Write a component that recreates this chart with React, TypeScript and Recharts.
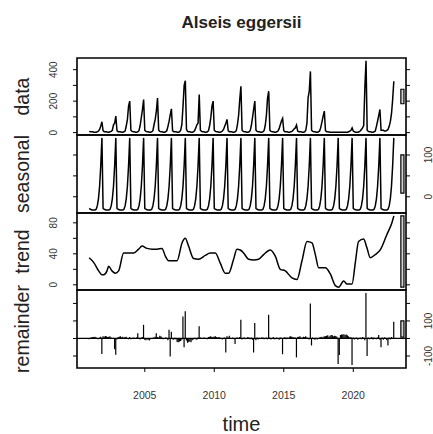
import React from 'react';
import { ComposedChart, Line, Bar, XAxis, YAxis, ReferenceArea, ReferenceLine } from 'recharts';

// ---------- content ----------
const TITLE = 'Alseis eggersii';
const PANEL_NAMES = ['data', 'seasonal', 'trend', 'remainder'];
const X_LABEL = 'time';

const YEARS = [2001, 2002, 2003, 2004, 2005, 2006, 2007, 2008, 2009, 2010, 2011,
  2012, 2013, 2014, 2015, 2016, 2017, 2018, 2019, 2020, 2021, 2022];

// monthly observed values, Jan..Dec per year
const DATA_ROWS: number[][] = [
  [8, 6, 5, 5, 3, 3, 3, 5, 10, 20, 42, 69],
  [12, 6, 5, 5, 3, 3, 5, 8, 15, 50, 60, 105],
  [12, 6, 5, 5, 3, 3, 5, 10, 42, 84, 168, 200],
  [15, 8, 5, 5, 3, 3, 5, 12, 45, 95, 147, 210],
  [15, 8, 5, 5, 3, 3, 5, 12, 50, 84, 137, 220],
  [15, 8, 5, 5, 3, 3, 5, 12, 40, 73, 115, 151],
  [12, 6, 5, 5, 3, 3, 5, 15, 50, 168, 300, 330],
  [20, 8, 5, 5, 3, 3, 5, 12, 30, 50, 60, 242],
  [15, 8, 5, 5, 3, 3, 5, 12, 45, 95, 168, 200],
  [15, 8, 5, 5, 3, 3, 5, 10, 20, 40, 60, 84],
  [12, 6, 5, 5, 3, 3, 5, 12, 50, 110, 210, 294],
  [15, 8, 5, 5, 3, 3, 5, 12, 45, 95, 150, 200],
  [15, 8, 5, 5, 3, 3, 5, 12, 45, 110, 221, 263],
  [15, 8, 5, 5, 3, 3, 5, 10, 25, 50, 74, 90],
  [12, 6, 5, 5, 3, 3, 5, 8, 15, 25, 30, 48],
  [10, 6, 5, 5, 3, 3, 5, 15, 60, 221, 263, 389],
  [15, 8, 5, 5, 3, 3, 5, 12, 35, 70, 105, 137],
  [12, 6, 5, 4, 3, 3, 3, 3, 3, 3, 3, 3],
  [3, 3, 3, 3, 3, 3, 3, 3, 5, 10, 15, 30],
  [10, 5, 3, 3, 3, 5, 10, 20, 30, 45, 284, 456],
  [15, 8, 5, 5, 3, 3, 5, 10, 40, 74, 110, 147],
  [15, 15, 15, 10, 10, 15, 20, 40, 70, 120, 210, 326],
];

// periodic seasonal component, Jan..Dec
const SEASONAL_PATTERN = [-28, -30, -31, -32, -32, -32, -30, -22, -5, 25, 75, 141];

// trend component
const TREND_TIMES = [
  2001.0, 2001.32, 2001.68, 2001.92, 2002.04, 2002.28, 2002.40, 2002.64, 2002.88, 2003.12,
  2003.48, 2003.72, 2004.20, 2004.56, 2004.80, 2005.16, 2005.52, 2005.88, 2006.24, 2006.48,
  2006.72, 2007.08, 2007.32, 2007.68, 2007.91, 2008.15, 2008.51, 2008.87, 2009.35, 2009.71,
  2010.07, 2010.43, 2010.79, 2011.03, 2011.39, 2011.63, 2011.87, 2012.11, 2012.47, 2012.83,
  2013.19, 2013.55, 2014.03, 2014.39, 2014.75, 2015.11, 2015.59, 2015.95, 2016.31, 2016.67,
  2017.03, 2017.27, 2017.51, 2017.99, 2018.35, 2018.71, 2018.95, 2019.31, 2019.55, 2019.91,
  2020.15, 2020.38, 2020.74, 2020.98, 2021.22, 2021.58, 2021.94, 2022.42, 2022.78, 2022.92,
];
const TREND_VALUES = [
  35, 29, 18, 13, 13, 18, 24, 18, 15, 18,
  41, 41, 41, 46, 50, 47, 46, 46, 47, 37,
  31, 31, 31, 54, 60, 50, 34, 33, 38, 41,
  41, 28, 15, 15, 33, 46, 45, 41, 33, 32,
  33, 39, 45, 37, 20, 18, 9, 7, 31, 56,
  54, 39, 22, 22, 14, -1, -3, 5, 1, 1,
  29, 56, 59, 48, 35, 39, 45, 65, 80, 89,
];

// remainder component, Jan..Dec per year
const REMAINDER_ROWS: number[][] = [
  [-5, 4, 6, 8, 8, 10, 6, 3, -4, 5, 10, -88],
  [12, 10, 14, 12, 8, 10, 12, 6, -3, 4, -61, -93],
  [-6, 8, 10, 12, 6, 10, 4, 8, 10, 3, -5, 8],
  [-4, 3, 5, 4, -3, 6, 30, 4, -6, 5, 8, 78],
  [-8, -10, -6, -8, -12, -5, -3, 4, 6, 10, 30, 8],
  [6, 15, 12, 5, -4, 3, 6, 4, -10, 50, -103, 38],
  [-5, -8, 4, -6, -20, -22, -18, -15, -8, 125, -50, 155],
  [-12, -25, -20, -18, -22, -10, -6, 4, -5, -8, 6, 70],
  [5, 4, -3, 6, 4, 3, -4, 8, 10, 12, 8, 10],
  [10, 12, 8, 6, 9, 5, 3, -6, 4, 5, -80, 12],
  [5, 15, 4, -3, 6, -5, -32, 4, 6, 3, 8, 107],
  [-6, 4, 5, -4, 3, 8, 5, -5, 6, -8, -80, 88],
  [-10, 5, -6, 4, -3, 5, 6, -4, 3, 6, -5, 135],
  [5, -6, 3, 8, -5, -4, 6, 3, -8, 5, 4, -90],
  [4, 8, -5, 6, 3, 10, 12, 10, 8, 5, 6, -108],
  [8, 10, 12, 6, 4, 10, 8, 12, 6, 4, -6, 200],
  [-40, 6, -5, -8, 4, -6, -3, 5, 8, 10, 6, 12],
  [12, 15, 18, 10, 15, 20, 18, 12, 16, 14, 10, -145],
  [-95, 20, 22, 22, 24, 20, 22, 18, 12, 6, 8, -152],
  [5, -6, 4, 6, -8, 3, 5, -4, 8, 6, -10, 260],
  [-100, 6, -5, 4, 8, -6, 5, 3, -4, 6, 20, -8],
  [-50, 5, -8, 6, 4, -10, -40, 5, -6, 8, 4, 95],
];

const X_TICKS = [2005, 2010, 2015, 2020];
const DATA_TICKS = [0, 100, 200, 300, 400];
const DATA_LABELS = [0, 200, 400];
const SEASONAL_TICKS = [0, 50, 100];
const SEASONAL_LABELS = [0, 100];
const TREND_TICKS = [0, 20, 40, 60, 80];
const TREND_LABELS = [0, 40, 80];
const REMAINDER_TICKS = [-100, 0, 100, 200];
const REMAINDER_LABELS = [-100, 100];

// ---------- layout ----------
const W = 433;
const H = 434;
const Y_LEFT_W = 77;
const Y_RIGHT_W = 27;
const PANEL_EDGES = [58, 135, 213, 290, 368];
const PAD = 6;
const X_AXIS_H = 50;
const FONT = "'Liberation Sans', Arial, Helvetica, sans-serif";

// ---------- tables ----------
const monthly = YEARS.flatMap((y, i) =>
  SEASONAL_PATTERN.map((s, m) => ({
    t: y + m / 12,
    data: DATA_ROWS[i][m],
    seasonal: s,
    remainder: REMAINDER_ROWS[i][m],
  }))
);
const trendRows = TREND_TIMES.map((t, i) => ({ t, trend: TREND_VALUES[i] }));

const tFirst = monthly[0].t;
const tLast = monthly[monthly.length - 1].t;
const X_DOMAIN: [number, number] = [tFirst - 0.04 * (tLast - tFirst), tLast + 0.04 * (tLast - tFirst)];

function stats(vals: number[]) {
  const lo = Math.min(...vals);
  const hi = Math.max(...vals);
  const r = hi - lo;
  return { lo, hi, r, dom: [lo - 0.04 * r, hi + 0.04 * r] as [number, number] };
}

const S = [
  stats(monthly.map((d) => d.data)),
  stats(monthly.map((d) => d.seasonal)),
  stats(TREND_VALUES),
  stats(monthly.map((d) => d.remainder)),
];
const MX = Math.min(...S.map((s) => s.r));

const makeYTick = (labels: number[], side: 'left' | 'right') => (props: any) => {
  const { y, payload } = props;
  if (!labels.includes(payload.value)) return <g />;
  const lx = side === 'left' ? 57.5 : 432.4;
  return (
    <text
      x={lx}
      y={y}
      transform={`rotate(-90 ${lx} ${y})`}
      textAnchor="middle"
      fontSize={10}
      fontFamily={FONT}
      fill="#333"
    >
      {payload.value}
    </text>
  );
};

const HShape = (p: any) => {
  const cx = p.x + p.width / 2;
  if (!isFinite(cx) || !isFinite(p.y) || !isFinite(p.height)) return <g />;
  return <line x1={cx} x2={cx} y1={p.y} y2={p.y + p.height} stroke="#000" strokeWidth={1.2} />;
};

function Panel(props: {
  index: number;
  rows: any[];
  dataKey: string;
  ticks: number[];
  labels: number[];
  labelSide: 'left' | 'right';
  curve?: 'linear' | 'monotone';
}) {
  const { index, rows, dataKey, ticks, labels, labelSide, curve } = props;
  const top = PANEL_EDGES[index];
  const bottom = PANEL_EDGES[index + 1];
  const ph = bottom - top;
  const last = index === 3;
  const h = PAD + ph + PAD + (last ? X_AXIS_H : 0);
  const st = S[index];
  const dx = (X_DOMAIN[1] - X_DOMAIN[0]) / 64;
  const cy = (st.lo + st.hi) / 2;
  const tickLabelBase = PAD + ph + 31;

  const XTick = (p: any) => (
    <text x={p.x} y={tickLabelBase} textAnchor="middle" fontSize={10.5} fontFamily={FONT} fill="#333">
      {p.payload.value}
    </text>
  );

  return (
    <div style={{ position: 'absolute', left: 0, top: top - PAD, width: W, height: h }}>
      <ComposedChart width={W} height={h} data={rows} margin={{ top: PAD, bottom: PAD, left: 0, right: 0 }}>
        <XAxis
          dataKey="t"
          type="number"
          domain={X_DOMAIN}
          allowDataOverflow
          hide={!last}
          ticks={X_TICKS}
          interval={0}
          tickSize={4}
          axisLine={false}
          tickLine={{ stroke: '#000', strokeWidth: 1 }}
          tick={XTick}
          height={last ? X_AXIS_H : undefined}
        />
        <YAxis
          yAxisId="L"
          orientation="left"
          width={Y_LEFT_W}
          type="number"
          domain={st.dom}
          allowDataOverflow
          ticks={ticks}
          interval={0}
          tickSize={4}
          axisLine={false}
          tickLine={{ stroke: '#000', strokeWidth: 1 }}
          tick={makeYTick(labelSide === 'left' ? labels : [], 'left')}
        />
        <YAxis
          yAxisId="R"
          orientation="right"
          width={Y_RIGHT_W}
          type="number"
          domain={st.dom}
          allowDataOverflow
          ticks={ticks}
          interval={0}
          tickSize={4}
          axisLine={false}
          tickLine={{ stroke: '#000', strokeWidth: 1 }}
          tick={makeYTick(labelSide === 'right' ? labels : [], 'right')}
        />
        {last ? (
          <Bar yAxisId="L" dataKey={dataKey} barSize={1} shape={HShape} isAnimationActive={false} />
        ) : (
          <Line
            yAxisId="L"
            type={curve || 'linear'}
            dataKey={dataKey}
            stroke="#000"
            strokeWidth={1.5}
            dot={false}
            isAnimationActive={false}
          />
        )}
        <Line yAxisId="R" type="linear" dataKey={dataKey} stroke="none" dot={false} isAnimationActive={false} />
        {last ? <ReferenceLine yAxisId="L" y={0} stroke="#000" strokeWidth={1.3} /> : null}
        <ReferenceArea
          yAxisId="L"
          x1={X_DOMAIN[1] - dx}
          x2={X_DOMAIN[1] - 0.4 * dx}
          y1={cy - MX / 2}
          y2={cy + MX / 2}
          fill="#d3d3d3"
          fillOpacity={1}
          stroke="#000"
          strokeWidth={1.2}
          ifOverflow="visible"
        />
        <ReferenceArea
          yAxisId="L"
          x1={X_DOMAIN[0]}
          x2={X_DOMAIN[1]}
          y1={st.dom[0]}
          y2={st.dom[1]}
          fill="none"
          fillOpacity={0}
          stroke="#000"
          strokeWidth={1.6}
          ifOverflow="visible"
        />
      </ComposedChart>
    </div>
  );
}

export default function App() {
  const panelCenters = [0, 1, 2, 3].map((i) => (PANEL_EDGES[i] + PANEL_EDGES[i + 1]) / 2);
  const plotCenterX = (Y_LEFT_W + (W - Y_RIGHT_W)) / 2;
  return (
    <div style={{ position: 'absolute', left: 0, top: 0, width: W, height: H, background: '#fff', overflow: 'hidden' }}>
      <Panel index={0} rows={monthly} dataKey="data" ticks={DATA_TICKS} labels={DATA_LABELS} labelSide="left" />
      <Panel index={1} rows={monthly} dataKey="seasonal" ticks={SEASONAL_TICKS} labels={SEASONAL_LABELS} labelSide="right" />
      <Panel index={2} rows={trendRows} dataKey="trend" ticks={TREND_TICKS} labels={TREND_LABELS} labelSide="left" curve="monotone" />
      <Panel index={3} rows={monthly} dataKey="remainder" ticks={REMAINDER_TICKS} labels={REMAINDER_LABELS} labelSide="right" />
      <svg width={W} height={H} style={{ position: 'absolute', left: 0, top: 0, pointerEvents: 'none' }}>
        <text x={plotCenterX} y={28} textAnchor="middle" fontSize={17} fontWeight="bold" fontFamily={FONT} fill="#222">
          {TITLE}
        </text>
        {PANEL_NAMES.map((name, i) => (
          <text
            key={name}
            x={29}
            y={panelCenters[i]}
            transform={`rotate(-90 29 ${panelCenters[i]})`}
            textAnchor="middle"
            fontSize={19.5}
            fontFamily={FONT}
            fill="#222"
          >
            {name}
          </text>
        ))}
        <text x={plotCenterX} y={431} textAnchor="middle" fontSize={20} fontFamily={FONT} fill="#222">
          {X_LABEL}
        </text>
      </svg>
    </div>
  );
}
